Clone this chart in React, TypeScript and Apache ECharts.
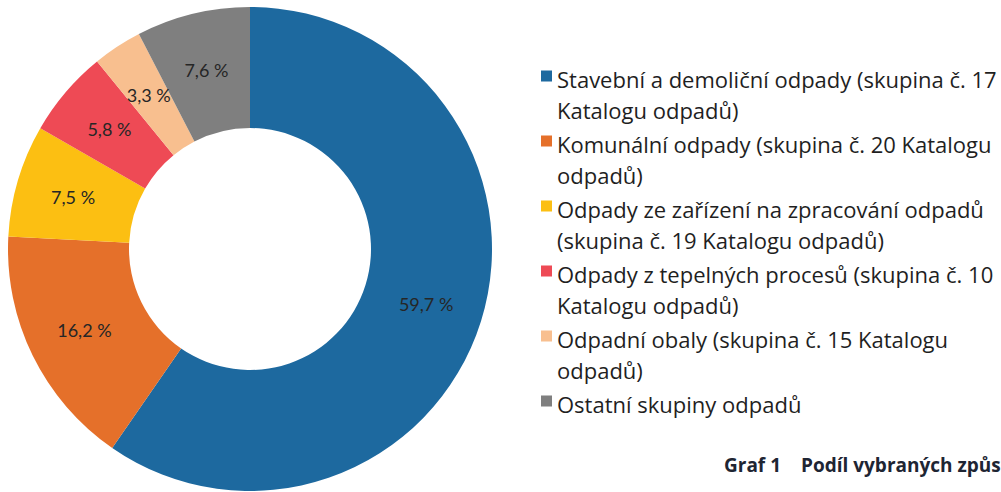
import React, { useEffect, useRef } from "react";
import * as echarts from "echarts";

const categories = [
  "Stavební a demoliční odpady (skupina č. 17 Katalogu odpadů)",
  "Komunální odpady (skupina č. 20 Katalogu odpadů)",
  "Odpady ze zařízení na zpracování odpadů (skupina č. 19 Katalogu odpadů)",
  "Odpady z tepelných procesů (skupina č. 10 Katalogu odpadů)",
  "Odpadní obaly (skupina č. 15 Katalogu odpadů)",
  "Ostatní skupiny odpadů",
];
const legendText = [
  "Stavební a demoliční odpady (skupina č. 17\nKatalogu odpadů)",
  "Komunální odpady (skupina č. 20 Katalogu\nodpadů)",
  "Odpady ze zařízení na zpracování odpadů\n(skupina č. 19 Katalogu odpadů)",
  "Odpady z tepelných procesů (skupina č. 10\nKatalogu odpadů)",
  "Odpadní obaly (skupina č. 15 Katalogu\nodpadů)",
  "Ostatní skupiny odpadů\n",
];
const shares = [59.7, 16.2, 7.5, 5.8, 3.3, 7.6];
const colors = ["#1d699f", "#e5702a", "#fcbf12", "#ee4a55", "#f8bf8f", "#7f7f7f"];
const titleLabel = "Graf 1";
const titleText = "Podíl vybraných způs";

const FONT = "'Open Sans', Lato, sans-serif";

export default function App() {
  const ref = useRef<HTMLDivElement>(null);
  useEffect(() => {
    if (!ref.current) return;
    const chart = echarts.init(ref.current, null, { renderer: "svg" });
    chart.setOption({
      animation: false,
      backgroundColor: "#ffffff",
      color: colors,
      title: {
        text: "{a|" + titleLabel + "}{b|" + titleText + "}",
        left: 724,
        top: 455,
        padding: 0,
        textStyle: {
          fontFamily: FONT,
          fontSize: 19,
          fontWeight: "bold",
          color: "#1e2533",
          rich: {
            a: { fontFamily: FONT, fontSize: 19, fontWeight: "bold", color: "#1e2533", width: 77 },
            b: { fontFamily: FONT, fontSize: 19, fontWeight: "bold", color: "#1e2533" },
          },
        },
      },
      legend: {
        orient: "vertical",
        left: 541,
        top: 63,
        padding: 0,
        itemWidth: 11,
        itemHeight: 47,
        itemGap: 3,
        icon: "path://M0,0L11,0L11,11L0,11Z M0,47L0.01,47",
        data: categories,
        formatter: (name: string) => legendText[categories.indexOf(name)],
        textStyle: {
          fontFamily: FONT,
          fontSize: 22,
          lineHeight: 31,
          color: "#1f1f1f",
          padding: [0, 0, 0, 0],
        },
        itemStyle: { borderWidth: 0 },
      },
      series: [
        {
          type: "pie",
          center: [250, 249],
          radius: [121, 242],
          startAngle: 90,
          clockwise: true,
          avoidLabelOverlap: false,
          itemStyle: { borderWidth: 0 },
          label: {
            show: true,
            position: "inside",
            fontFamily: "Lato, sans-serif",
            fontSize: 18,
            color: "#262626",
            formatter: (p: any) => p.value.toFixed(1).replace(".", ",") + " %",
          },
          labelLine: { show: false },
          emphasis: { disabled: true },
          data: categories.map((c, i) => ({ name: c, value: shares[i] })),
        },
      ],
    });
    return () => chart.dispose();
  }, []);
  return (
    <div
      ref={ref}
      style={{ position: "absolute", left: 0, top: 0, width: 1001, height: 492 }}
    />
  );
}
